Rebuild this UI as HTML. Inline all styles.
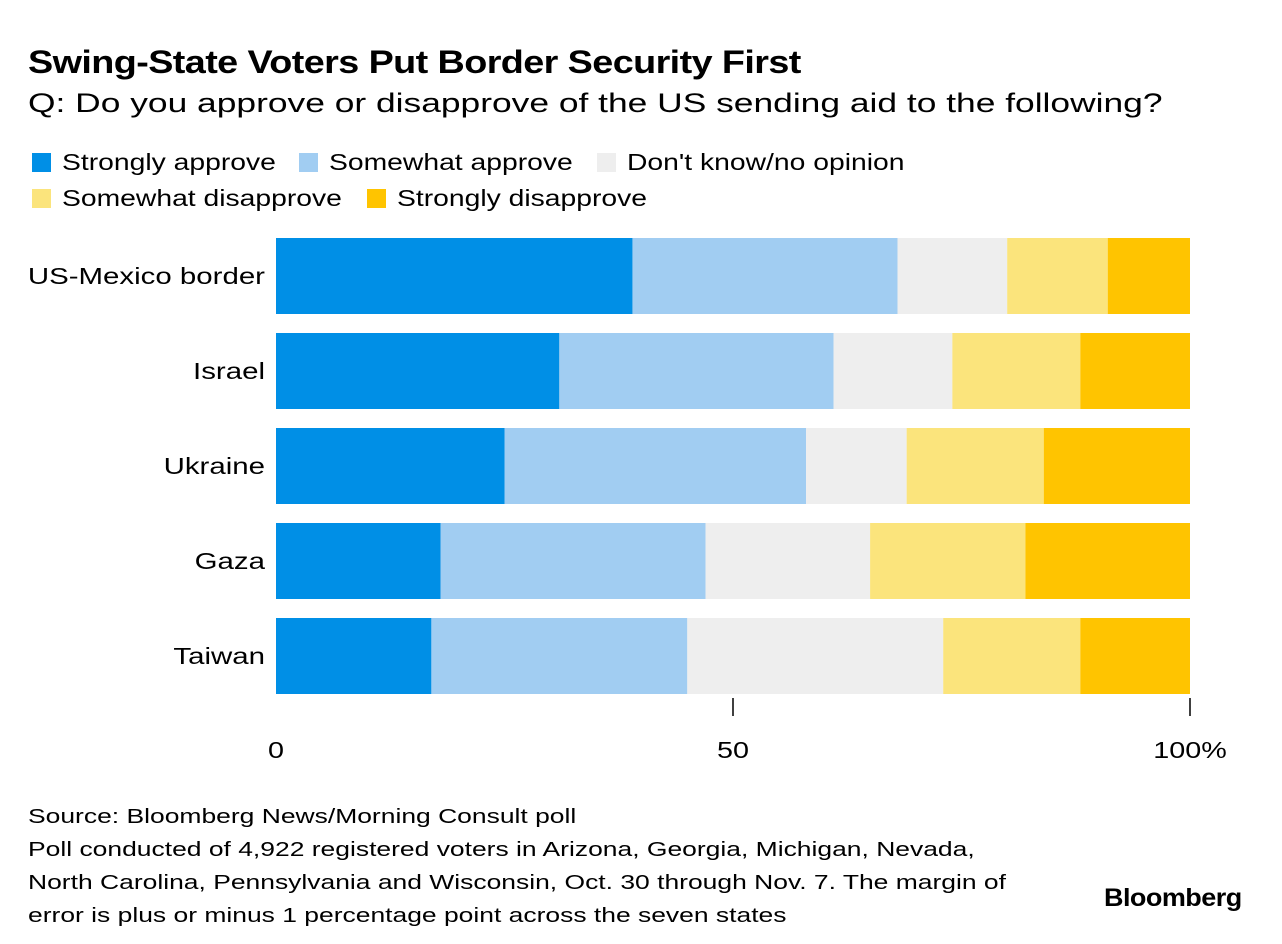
<!DOCTYPE html>
<html><head><meta charset="utf-8"><style>
body{margin:0;width:1282px;height:944px;background:#fff;font-family:"Liberation Sans",sans-serif;color:#000;position:relative;overflow:hidden}
.t{position:absolute;white-space:nowrap;transform-origin:0 0}
.sw{display:inline-block;width:19px;height:19px;vertical-align:-2px;margin-right:11px}
.lg{position:absolute;font-size:23px;white-space:nowrap}
.lg span.tx{display:inline-block;transform:scaleX(1.23);transform-origin:0 0}
</style></head><body>
<div class="t" style="left:28px;top:44px;font-size:32px;font-weight:bold;letter-spacing:-0.5px;transform:scaleX(1.18)">Swing-State Voters Put Border Security First</div>
<div class="t" style="left:28px;top:88px;font-size:27px;transform:scaleX(1.31)">Q: Do you approve or disapprove of the US sending aid to the following?</div>
<div class="lg" style="left:32px;top:149px"><span class="sw" style="background:#008fe6"></span><span class="tx">Strongly approve</span></div>
<div class="lg" style="left:299px;top:149px"><span class="sw" style="background:#a1cdf2"></span><span class="tx">Somewhat approve</span></div>
<div class="lg" style="left:597px;top:149px"><span class="sw" style="background:#eeeeee"></span><span class="tx">Don't know/no opinion</span></div>
<div class="lg" style="left:32px;top:185px"><span class="sw" style="background:#fbe47c"></span><span class="tx">Somewhat disapprove</span></div>
<div class="lg" style="left:367px;top:185px"><span class="sw" style="background:#ffc400"></span><span class="tx">Strongly disapprove</span></div>
<svg id="c" width="1282" height="944" style="position:absolute;left:0;top:0"></svg>
<div class="t" style="left:28px;top:800px;font-size:20.5px;line-height:33px;transform:scaleX(1.29)">Source: Bloomberg News/Morning Consult poll<br><span style="line-height:27px">Poll conducted of 4,922 registered voters in Arizona, Georgia, Michigan, Nevada,<br>North Carolina, Pennsylvania and Wisconsin, Oct. 30 through Nov. 7. The margin of<br>error is plus or minus 1 percentage point across the seven states</span></div>
<div class="t" style="left:1104px;top:884px;font-size:25px;font-weight:bold;letter-spacing:-0.5px;transform:scaleX(1.08)">Bloomberg</div>
<script>
const categories=["US-Mexico border","Israel","Ukraine","Gaza","Taiwan"];
const stronglyApprove=[39,31,25,18,17];
const somewhatApprove=[29,30,33,29,28];
const dontKnow=[12,13,11,18,28];
const somewhatDisapprove=[11,14,15,17,15];
const stronglyDisapprove=[9,12,16,18,12];
const tickValues=[0,50,100];
const tickLabels=["0","50","100%"];
const series=[stronglyApprove,somewhatApprove,dontKnow,somewhatDisapprove,stronglyDisapprove];
const colors=["#008fe6","#a1cdf2","#eeeeee","#fbe47c","#ffc400"];
const names=["strongly-approve","somewhat-approve","dont-know","somewhat-disapprove","strongly-disapprove"];
const svg=document.getElementById('c');const NS="http://www.w3.org/2000/svg";
const x=v=>276+v*9.14;const y=i=>238+i*95;const bh=76;
function mk(t,a){const e=document.createElementNS(NS,t);for(const k in a)e.setAttribute(k,a[k]);svg.appendChild(e);return e;}
categories.forEach((c,i)=>{let acc=0;
 series.forEach((s,j)=>{const r=mk('rect',{x:x(acc),y:y(i),width:x(acc+s[i])-x(acc),height:bh,fill:colors[j]});
  
  acc+=s[i];});
 const t=mk('text',{x:0,y:0,transform:'translate(265,'+(y(i)+bh/2+8)+') scale(1.28,1)','text-anchor':'end','font-size':23,'font-family':'Liberation Sans, sans-serif'});
 t.textContent=c;
 
 
});
tickValues.forEach((v,k)=>{
 if(v>0){const l=mk('line',{x1:x(v),x2:x(v),y1:698,y2:716,stroke:'#000','stroke-width':1.5});
 
 }
 const t=mk('text',{x:0,y:0,transform:'translate('+x(v)+',758) scale(1.25,1)','text-anchor':'middle','font-size':23,'font-family':'Liberation Sans, sans-serif'});
 t.textContent=tickLabels[k];
 
 
});
</script>
</body></html>
